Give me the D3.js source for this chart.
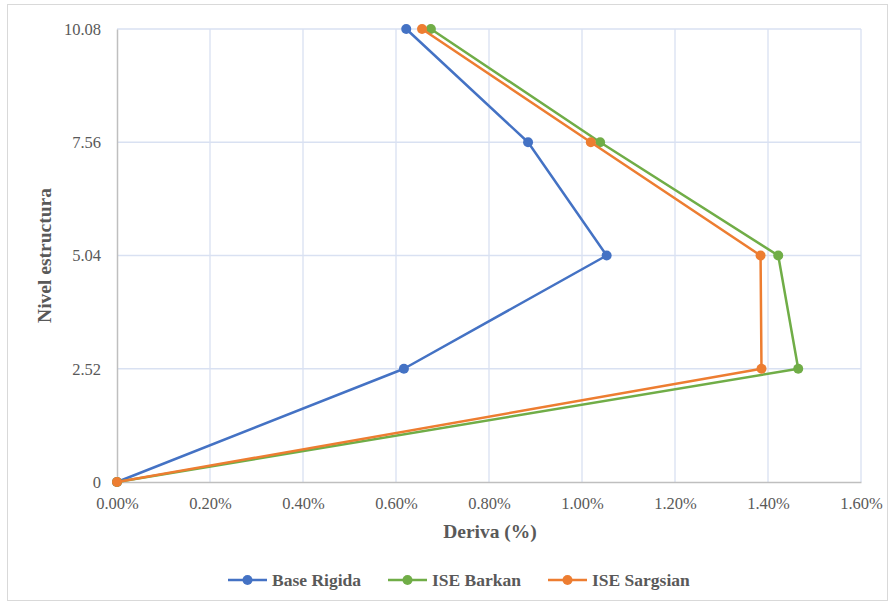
<!DOCTYPE html>
<html><head><meta charset="utf-8">
<script src="https://cdn.jsdelivr.net/npm/d3@7"></script>
<style>body{margin:0;background:#fff;}svg{display:block;}</style>
</head><body>
<svg id="c" width="895" height="605"></svg>
<script>
const levels = [0, 2.52, 5.04, 7.56, 10.08];
const levelLabels = ["0", "2.52", "5.04", "7.56", "10.08"];
const xTicks = [0, 0.2, 0.4, 0.6, 0.8, 1.0, 1.2, 1.4, 1.6];
const seriesNames = ["Base Rigida", "ISE Barkan", "ISE Sargsian"];
const baseRigida = [0, 0.617, 1.053, 0.884, 0.622];
const iseBarkan = [0, 1.465, 1.422, 1.039, 0.675];
const iseSargsian = [0, 1.386, 1.384, 1.019, 0.656];
const colors = ["#4472C4", "#70AD47", "#ED7D31"];

const series = [baseRigida, iseBarkan, iseSargsian];
const FONT = '"Liberation Serif"';
const svg = d3.select("#c");
svg.append("rect").attr("x", 7.5).attr("y", 4.5).attr("width", 880).attr("height", 596)
  .attr("fill", "#fff").attr("stroke", "#D9D9D9").attr("stroke-width", 1);

const x = d3.scaleLinear().domain([0, 1.6]).range([117, 861]);
const y = d3.scaleLinear().domain([0, 10.08]).range([482, 29]);

// gridlines
svg.append("g").selectAll("line").data(xTicks.slice(1)).join("line")
  .attr("x1", d => x(d)).attr("x2", d => x(d)).attr("y1", y(10.08)).attr("y2", y(0))
  .attr("stroke", "#D9E1F2").attr("stroke-width", 1.3);
svg.append("g").selectAll("line").data(levels.slice(1)).join("line")
  .attr("y1", d => y(d)).attr("y2", d => y(d)).attr("x1", x(0)).attr("x2", x(1.6))
  .attr("stroke", "#D9E1F2").attr("stroke-width", 1.3);

// axes
const xAxis = d3.axisBottom(x).tickValues(xTicks).tickFormat(d => d.toFixed(2) + "%").tickSize(0).tickPadding(15);
const gx = svg.append("g").attr("transform", `translate(0,${y(0)})`).call(xAxis);
gx.select(".domain").attr("stroke", "#BFBFBF").attr("stroke-width", 1.5);
gx.selectAll("text").style("font-family", FONT).style("font-size", "16.5px").attr("fill", "#595959");

const yAxis = d3.axisLeft(y).tickValues(levels).tickFormat((d, i) => levelLabels[i]).tickSize(0).tickPadding(16);
const gy = svg.append("g").attr("transform", `translate(${x(0)},0)`).call(yAxis);
gy.select(".domain").attr("stroke", "#BFBFBF").attr("stroke-width", 1.5);
gy.selectAll("text").style("font-family", FONT).style("font-size", "16.5px").attr("fill", "#595959");

// titles
svg.append("text").attr("x", 490).attr("y", 538).attr("text-anchor", "middle")
  .style("font-family", FONT).style("font-size", "19.5px").style("font-weight", "bold").attr("fill", "#595959")
  .text("Deriva (%)");
svg.append("text").attr("transform", `translate(51,${(y(0) + y(10.08)) / 2}) rotate(-90)`).attr("text-anchor", "middle")
  .style("font-family", FONT).style("font-size", "19.5px").style("font-weight", "bold").attr("fill", "#595959")
  .text("Nivel estructura");

// series
const line = d3.line().x(d => x(d[0])).y(d => y(d[1]));
series.forEach((vals, i) => {
  const pts = vals.map((v, j) => [v, levels[j]]);
  const g = svg.append("g");
  g.append("path").attr("d", line(pts)).attr("fill", "none").attr("stroke", colors[i])
    .attr("stroke-width", 2.5).attr("stroke-linejoin", "round");
  g.selectAll("circle").data(pts).join("circle")
    .attr("cx", d => x(d[0])).attr("cy", d => y(d[1])).attr("r", 5).attr("fill", colors[i]);
});

// legend
const legX = [228, 388, 548];
seriesNames.forEach((name, i) => {
  const g = svg.append("g").attr("transform", `translate(${legX[i]},580)`);
  g.append("line").attr("x1", 0).attr("x2", 39).attr("y1", 0).attr("y2", 0)
    .attr("stroke", colors[i]).attr("stroke-width", 2.5);
  g.append("circle").attr("cx", 19.5).attr("cy", 0).attr("r", 5).attr("fill", colors[i]);
  g.append("text").attr("x", 44).attr("y", 6).style("font-family", FONT).style("font-size", "17.5px")
    .style("font-weight", "bold").attr("fill", "#595959").text(name);
});
</script>
</body></html>
